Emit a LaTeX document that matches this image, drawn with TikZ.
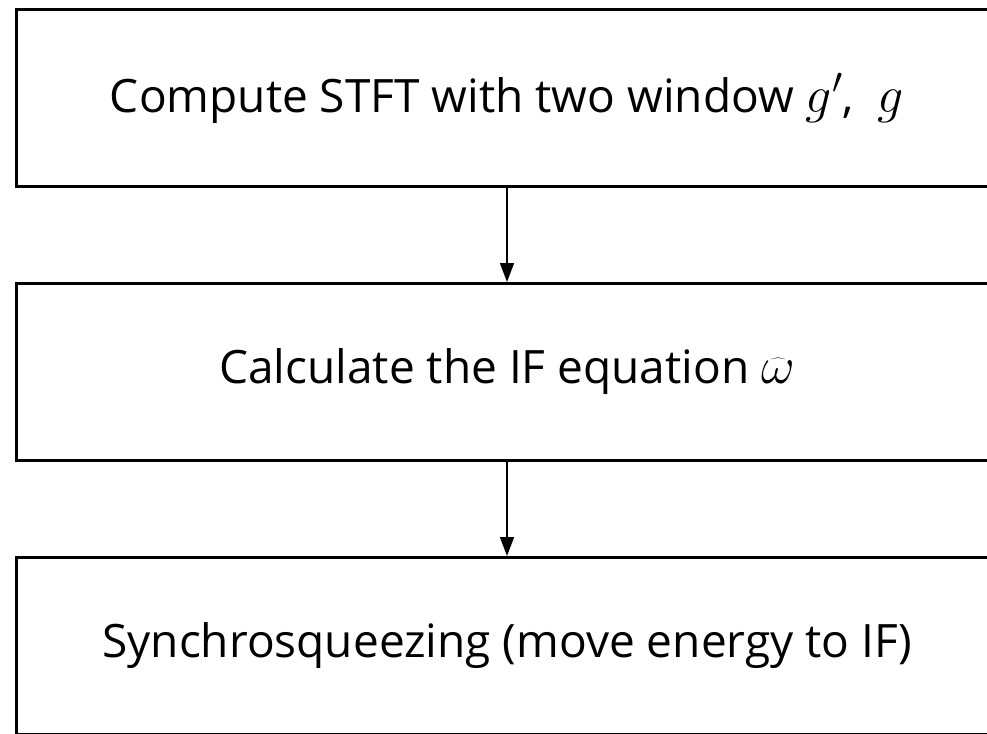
\RequirePackage{fix-cm}
\documentclass[tikz,border=0pt]{standalone}
\usepackage{fontspec}
\setmainfont{Open Sans}
\usetikzlibrary{arrows.meta,positioning}
\newcommand{\bigmath}[1]{{\fontsize{52}{60}\selectfont$#1$}}

\begin{document}
\begin{tikzpicture}[x=1pt,y=-1pt,
  font=\fontsize{46}{54}\selectfont,
  stepbox/.style={draw=black,line width=3pt,minimum width=981pt,
    minimum height=177pt,inner sep=0pt,align=center},
  flow/.style={-{Triangle[length=19pt,width=14pt]},line width=1.5pt},
  node distance=94pt]
\useasboundingbox (0,0) rectangle (987,733);
\node[stepbox] (stft) at (507,98) {Compute STFT with two window \bigmath{g'},~~\bigmath{g}};
\node[stepbox,below=of stft] (ifeq) {Calculate the IF equation \bigmath{\widehat{\omega}}};
\node[stepbox,below=of ifeq] (sst) {Synchrosqueezing (move energy to IF)};
\draw[flow] (stft) -- (ifeq);
\draw[flow] (ifeq) -- (sst);
\end{tikzpicture}
\end{document}
